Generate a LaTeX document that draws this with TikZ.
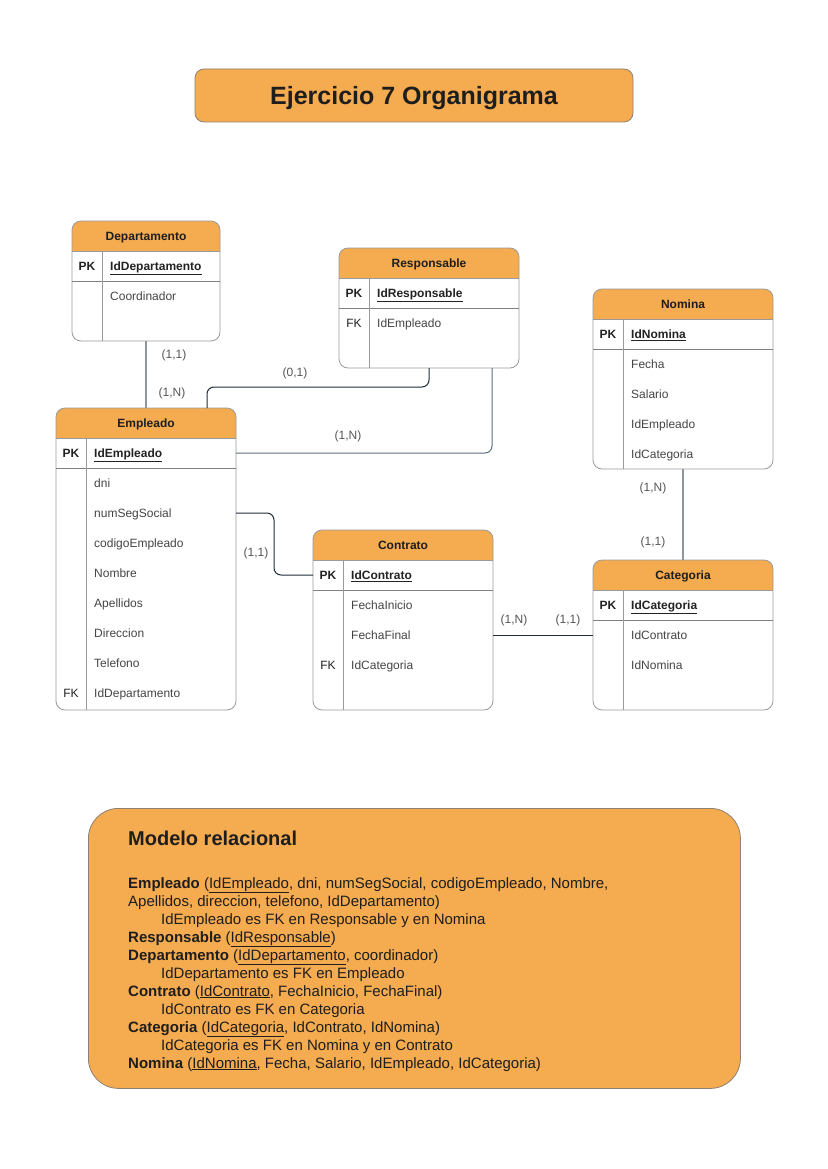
\documentclass[tikz,border=0pt]{standalone}
\usepackage{fontspec}
\setmainfont{Liberation Sans}
\definecolor{orangefill}{HTML}{F5AB50}
\definecolor{bordergray}{HTML}{9A9A9A}
\definecolor{hdrtxt}{HTML}{1E1E1E}
\definecolor{rowtxt}{HTML}{444444}
\definecolor{pktxt}{HTML}{222222}
\definecolor{labeltxt}{HTML}{555555}
\definecolor{conndark}{HTML}{1F2D3A}
\definecolor{conngray}{HTML}{8C969C}
\definecolor{connmid}{HTML}{5D6D7E}
\definecolor{titleborder}{HTML}{8F8070}
\newcommand\ertab[6]{%
  \fill[orangefill] (#2,#3+30) {[rounded corners=9pt] -- (#2,#3) -- (#2+#4,#3)} -- (#2+#4,#3+30) -- cycle;
  \node[tblbox, minimum width=#4pt, minimum height=#5pt, anchor=north west] (#1) at (#2,#3) {};
  \draw[tblline] (#2,#3+30) -- (#2+#4,#3+30);
  \draw[tblline, draw=gray] (#2,#3+60) -- (#2+#4,#3+60);
  \draw[tblline] (#2+30,#3+30) -- (#2+30,#3+#5);
  \node[hdrtext] (#1-title) at (#2+#4/2,#3+15) {#6};
}
% name, x, row centre y, key, text
\newcommand\ertrow[5]{%
  \node[keytext] (#1-k) at (#2+15,#3+4.3) {#4};
  \node[rowtext] (#1) at (#2+38,#3+4.3) {#5};
}
\begin{document}
\begin{tikzpicture}[x=1pt,y=-1pt,
  tblbox/.style={draw=bordergray, line width=0.8pt, rounded corners=9pt, inner sep=0pt, outer sep=0pt},
  tblline/.style={draw=bordergray, line width=0.8pt},
  hdrtext/.style={font=\fontsize{12}{14}\selectfont\bfseries, text=hdrtxt, inner sep=0pt, text height=8.6pt, text depth=0pt},
  keytext/.style={font=\fontsize{12}{14}\selectfont, text=pktxt, inner sep=0pt, anchor=base},
  rowtext/.style={font=\fontsize{12}{14}\selectfont, text=rowtxt, inner sep=0pt, anchor=base west},
  card/.style={font=\fontsize{12}{14}\selectfont, text=labeltxt, inner sep=0pt},
  conn/.style={line width=1pt, draw=conndark, rounded corners=7pt},
  conng/.style={line width=1.4pt, draw=conngray},
  connm/.style={line width=1pt, draw=connmid, rounded corners=7pt},
  titlebox/.style={draw=titleborder, line width=0.8pt, fill=orangefill, rounded corners=9pt,
    font=\fontsize{25}{30}\selectfont\bfseries, text=hdrtxt, text height=18pt, text depth=0pt, inner sep=0pt},
  modelbox/.style={draw=titleborder, line width=0.8pt, fill=orangefill, rounded corners=30pt, inner sep=0pt},
  mtxt/.style={font=\fontsize{15}{18}\selectfont, text=hdrtxt, inner sep=0pt, anchor=base west},
  mhead/.style={font=\fontsize{20}{24}\selectfont\bfseries, text=hdrtxt, inner sep=0pt, anchor=base west}
]
\useasboundingbox (0,0) rectangle (827,1169);

% Title
\node[titlebox, minimum width=438pt, minimum height=53pt] (title) at (414,95.5) {Ejercicio 7 Organigrama};

% Departamento
\ertab{dep}{72}{221}{148}{120}{Departamento}
\ertrow{dep1}{72}{266}{\textbf{PK}}{\textbf{\color{pktxt}\underline{IdDepartamento}}}
\ertrow{dep2}{72}{296}{}{Coordinador}

% Responsable
\ertab{resp}{339}{248}{180}{120}{Responsable}
\ertrow{resp1}{339}{293}{\textbf{PK}}{\textbf{\color{pktxt}\underline{IdResponsable}}}
\ertrow{resp2}{339}{323}{FK}{IdEmpleado}

% Nomina
\ertab{nom}{593}{289}{180}{180}{Nomina}
\ertrow{nom1}{593}{334}{\textbf{PK}}{\textbf{\color{pktxt}\underline{IdNomina}}}
\ertrow{nom2}{593}{364}{}{Fecha}
\ertrow{nom3}{593}{394}{}{Salario}
\ertrow{nom4}{593}{424}{}{IdEmpleado}
\ertrow{nom5}{593}{454}{}{IdCategoria}

% Empleado
\ertab{emp}{56}{408}{180}{302}{Empleado}
\ertrow{emp1}{56}{453}{\textbf{PK}}{\textbf{\color{pktxt}\underline{IdEmpleado}}}
\ertrow{emp2}{56}{483}{}{dni}
\ertrow{emp3}{56}{513}{}{numSegSocial}
\ertrow{emp4}{56}{543}{}{codigoEmpleado}
\ertrow{emp5}{56}{573}{}{Nombre}
\ertrow{emp6}{56}{603}{}{Apellidos}
\ertrow{emp7}{56}{633}{}{Direccion}
\ertrow{emp8}{56}{663}{}{Telefono}
\ertrow{emp9}{56}{693}{FK}{IdDepartamento}

% Contrato
\ertab{con}{313}{530}{180}{180}{Contrato}
\ertrow{con1}{313}{575}{\textbf{PK}}{\textbf{\color{pktxt}\underline{IdContrato}}}
\ertrow{con2}{313}{605}{}{FechaInicio}
\ertrow{con3}{313}{635}{}{FechaFinal}
\ertrow{con4}{313}{665}{FK}{IdCategoria}

% Categoria
\ertab{cat}{593}{560}{180}{150}{Categoria}
\ertrow{cat1}{593}{605}{\textbf{PK}}{\textbf{\color{pktxt}\underline{IdCategoria}}}
\ertrow{cat2}{593}{635}{}{IdContrato}
\ertrow{cat3}{593}{665}{}{IdNomina}

% Connectors
\draw[conng] (dep.south) -- (emp.north);
\draw[conn] (resp.south) -- ++(0,19) -| ([xshift=151pt]emp.north west);
\draw[connm] ([xshift=-27pt]resp.south east) |- ([yshift=-45pt]emp.north east);
\draw[conn] ([yshift=-105pt]emp.north east) -- ++(38,0) |- ([yshift=-45pt]con.north west);
\draw[conn] ([yshift=-105pt]con.north east) -- ([yshift=-75pt]cat.north west);
\draw[conng] (nom.south) -- (cat.north);

% Cardinalities
\node[card] (c1) at (174,355) {(1,1)};
\node[card] (c2) at (172,393) {(1,N)};
\node[card] (c3) at (295,373) {(0,1)};
\node[card] (c4) at (348,436) {(1,N)};
\node[card] (c5) at (256,553) {(1,1)};
\node[card] (c6) at (514,620) {(1,N)};
\node[card] (c7) at (568,620) {(1,1)};
\node[card] (c8) at (653,488) {(1,N)};
\node[card] (c9) at (653,542) {(1,1)};

% Modelo relacional
\node[modelbox, minimum width=652pt, minimum height=280pt, anchor=north west] (model) at (88,808) {};
\node[mhead] (mh) at (128,845) {Modelo relacional};
\node[mtxt] (l1) at (128,888) {\textbf{Empleado} (\underline{IdEmpleado}, dni, numSegSocial, codigoEmpleado, Nombre,};
\node[mtxt] (l2) at (128,906) {Apellidos, direccion, telefono, IdDepartamento)};
\node[mtxt] (l3) at (161,924) {IdEmpleado es FK en Responsable y en Nomina};
\node[mtxt] (l4) at (128,942) {\textbf{Responsable} (\underline{IdResponsable})};
\node[mtxt] (l5) at (128,960) {\textbf{Departamento} (\underline{IdDepartamento}, coordinador)};
\node[mtxt] (l6) at (161,978) {IdDepartamento es FK en Empleado};
\node[mtxt] (l7) at (128,996) {\textbf{Contrato} (\underline{IdContrato}, FechaInicio, FechaFinal)};
\node[mtxt] (l8) at (161,1014) {IdContrato es FK en Categoria};
\node[mtxt] (l9) at (128,1032) {\textbf{Categoria} (\underline{IdCategoria}, IdContrato, IdNomina)};
\node[mtxt] (l10) at (161,1050) {IdCategoria es FK en Nomina y en Contrato};
\node[mtxt] (l11) at (128,1068) {\textbf{Nomina} (\underline{IdNomina}, Fecha, Salario, IdEmpleado, IdCategoria)};
\end{tikzpicture}
\end{document}
